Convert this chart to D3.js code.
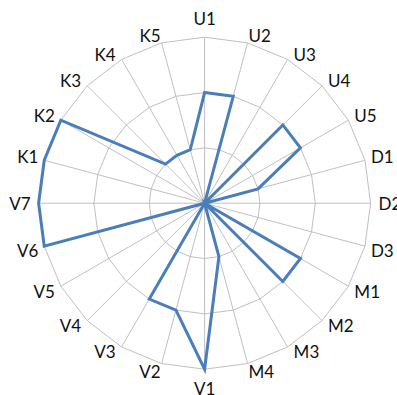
<!DOCTYPE html>
<html>
<head>
<meta charset="utf-8">
<script src="https://cdn.jsdelivr.net/npm/d3@7"></script>
<style>
  html, body { margin: 0; padding: 0; background: #fff; }
  svg { display: block; }
  text { font-family: Lato, "Open Sans", sans-serif; font-size: 17px; fill: #111; }
</style>
</head>
<body>
<svg id="chart" width="397" height="395"></svg>
<script>
// Category axes, clockwise from the top
const categories = ["U1","U2","U3","U4","U5","D1","D2","D3","M1","M2","M3","M4",
                    "V1","V2","V3","V4","V5","V6","V7","K1","K2","K3","K4","K5"];
// Series values per category
const values = [2,2,0,2,2,1,0,0,2,2,0,1,3,2,2,0,0,3,3,3,3,1,1,1];
// Gridline levels
const ringLevels = [1,2,3];

const width = 397, height = 395;
const cx = 204.6, cy = 203.2, R = 166;

const svg = d3.select("#chart");
const g = svg.append("g").attr("transform", `translate(${cx},${cy})`);

const angle = d3.scaleBand().domain(categories).range([0, 2 * Math.PI]).align(0).paddingInner(0).paddingOuter(0);
const ang = d => angle(d);
const r = d3.scaleLinear().domain([0, d3.max(ringLevels)]).range([0, R]);

const pt = (a, rad) => [rad * Math.sin(a), -rad * Math.cos(a)];

// Polygonal rings
const ringLine = d3.line();
g.selectAll("path.ring").data(ringLevels).join("path")
  .attr("class", "ring")
  .attr("d", lv => ringLine(categories.map(c => pt(ang(c), r(lv)))) + "Z")
  .attr("fill", "none")
  .attr("stroke", "#c0c0c0")
  .attr("stroke-width", 1);

// Spokes
g.selectAll("line.spoke").data(categories).join("line")
  .attr("class", "spoke")
  .attr("x1", 0).attr("y1", 0)
  .attr("x2", c => pt(ang(c), r(3))[0])
  .attr("y2", c => pt(ang(c), r(3))[1])
  .attr("stroke", "#c0c0c0")
  .attr("stroke-width", 1);

// Series
const radial = d3.lineRadial()
  .angle((d, i) => ang(categories[i]))
  .radius(d => r(d))
  .curve(d3.curveLinearClosed);
g.append("path")
  .datum(values)
  .attr("d", radial)
  .attr("fill", "none")
  .attr("stroke", "#4a7ebb")
  .attr("stroke-width", 3)
  .attr("stroke-linejoin", "miter");

// Category labels around the outer ring
g.selectAll("text.cat").data(categories).join("text")
  .attr("class", "cat")
  .text(d => d)
  .each(function(c) {
    const a = ang(c);
    const s = Math.sin(a), co = Math.cos(a);
    const [vx, vy] = pt(a, r(3));
    const el = d3.select(this);
    let x, y, anchor;
    if (Math.abs(s) < 0.01) {
      anchor = "middle"; x = vx; y = vy - 19 * Math.sign(co);
    } else {
      anchor = s > 0 ? "start" : "end";
      const offX = Math.abs(s) > 0.4 ? 6 : 1;
      x = vx + Math.sign(s) * (Math.abs(co) < 0.01 ? 8 : offX);
      let offY;
      const ac = Math.abs(co);
      if (ac < 0.01) offY = 0;
      else if (ac < 0.3) offY = 4;
      else if (ac < 0.9) offY = 5;
      else offY = 7.5;
      y = vy - Math.sign(co) * offY;
    }
    el.attr("x", x).attr("y", y)
      .attr("text-anchor", anchor)
      .attr("dominant-baseline", "central");
  });
</script>
</body>
</html>
